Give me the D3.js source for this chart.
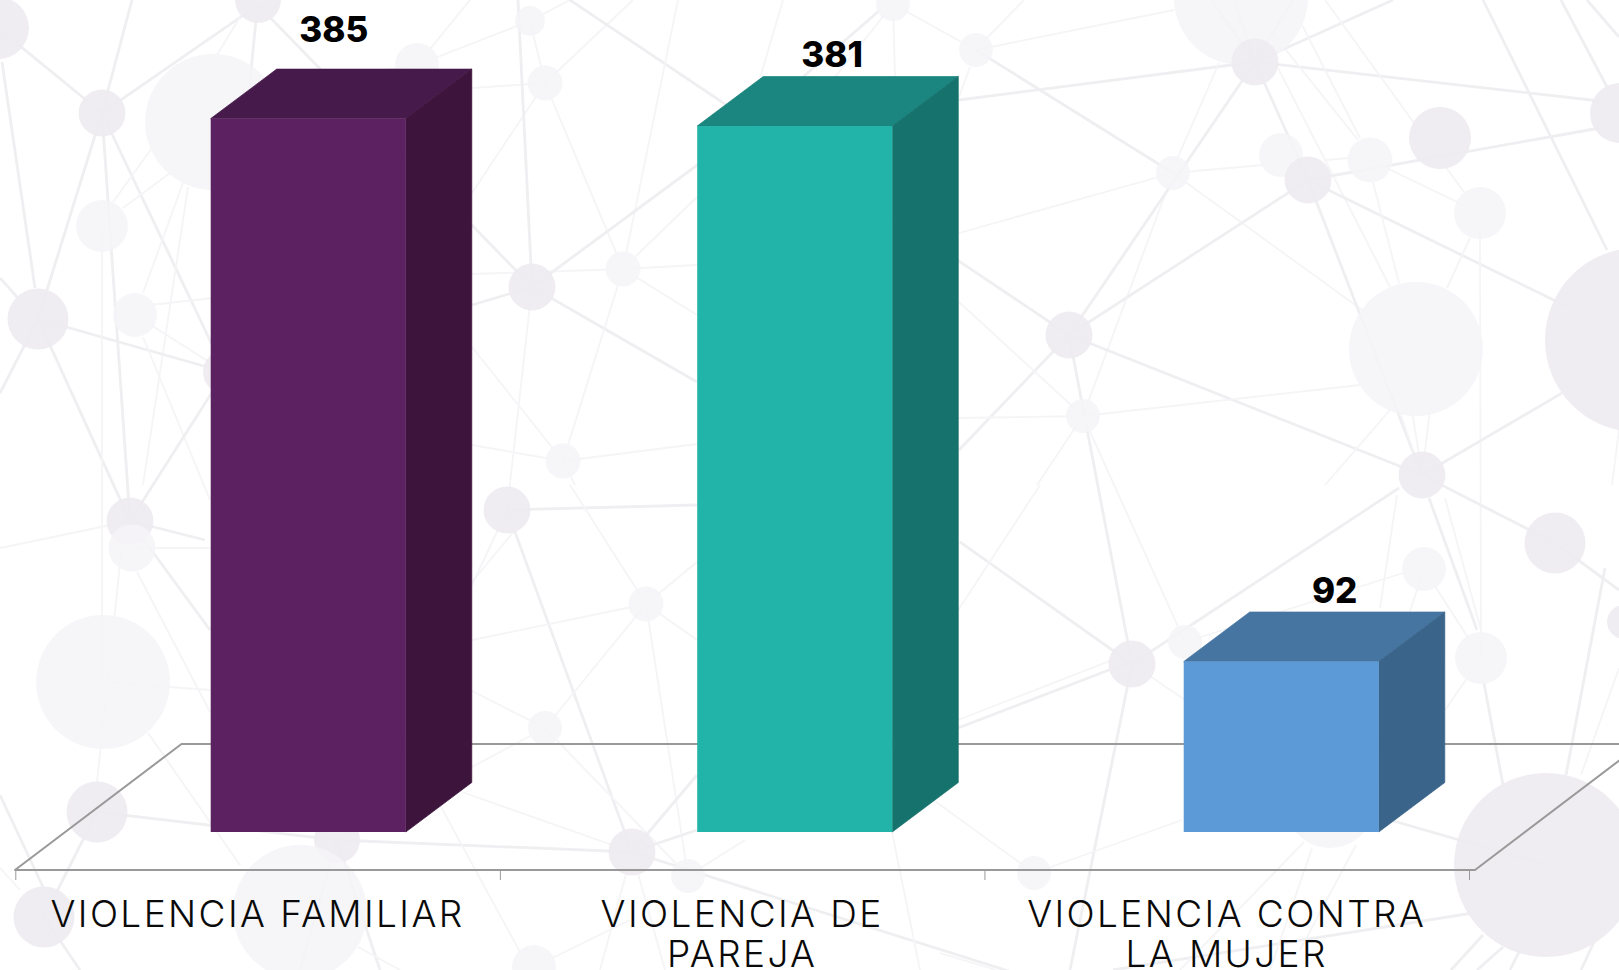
<!DOCTYPE html>
<html lang="es">
<head>
<meta charset="utf-8">
<title>Violencia</title>
<script src="https://cdn.jsdelivr.net/npm/d3@7"></script>
<style>
html,body{margin:0;padding:0;background:#fff;overflow:hidden}
svg{display:block}
</style>
</head>
<body>
<svg id="chart" width="1619" height="970"></svg>
<script>
// ---- chart data ----
const categories = ["VIOLENCIA FAMILIAR", "VIOLENCIA DE PAREJA", "VIOLENCIA CONTRA LA MUJER"];
const categoryLines = [["VIOLENCIA FAMILIAR"], ["VIOLENCIA DE", "PAREJA"], ["VIOLENCIA CONTRA", "LA MUJER"]];
const values = [385, 381, 92];
const frontColors = ["#5c2160", "#22b4a8", "#5b9ad6"];
const topColors = ["#461a4a", "#1b857f", "#4675a2"];
const sideColors = ["#3d143c", "#16726c", "#3a6489"];
const labelShiftX = [123, 135, 151];
const labelGapY = [27, 9.5, 9];

// ---- decorative background network: [x, y, r, tone]  tone 1 darker, 0 lighter ----
const bgNodes = [
[-2,28,31,1],[102,113,23.5,1],[258,0,23,1],[213,122,68,0],[102,226,26,0],[135,315,22,0],[38,319,30.5,1],
[225,372,22,1],[417,65,22,0],[532,287,23.5,1],[130,521,23.5,1],[132,548,23.5,0],[103,682,67,0],[97,812,30.5,1],
[337,840,23,1],[300,912,67,0],[44,917,30.5,1],[507,510,23.5,1],[534,967,22,0],[530,21,15,0],[545,83,17.5,0],
[623,269,17.5,0],[563,461,17.5,0],[893,4,17,0],[976,50,17,0],[646,604,17.5,0],[545,728,17,0],[632,852,23.5,1],
[688,876,17,0],[1241,-2,67,0],[1255,62,23.5,1],[1281,155,22,0],[1308,180,23.5,1],[1370,160,22.5,0],[1440,138,31,1],
[1480,213,26,0],[1173,173,17,0],[1069,335,23.5,1],[1416,349,67,0],[1083,416,17,0],[1422,475,23.5,1],[1620,113,30,1],
[1637,340,92,1],[1555,543,30.5,1],[1424,569,22,0],[1481,658,26,0],[1132,664,23.5,1],[1185,642,17,0],[1330,803,45,0],
[1546,865,92,1],[1034,873,17,0],[1624,622,17,1]
];
// [x1, y1, x2, y2, weight]  weight 1 heavier, 0 thinner
const bgLinks = [
[-2,28,102,113,1],[2,62,35,288,1],[132,0,102,113,1],[102,113,258,5,1],[102,113,38,319,1],[102,113,130,521,1],[102,113,225,372,1],
[256,20,246,122,1],[240,17,217,55,0],[258,5,532,287,1],[170,173,123,208,0],[152,148,113,202,0],[183,183,143,293,0],[188,187,143,485,0],
[135,315,225,372,0],[150,305,214,298,0],[472,274,623,269,0],[38,319,225,372,1],[38,319,0,393,1],[17,297,0,278,1],[38,319,130,521,1],
[102,226,102,682,0],[143,337,210,500,0],[225,372,130,521,1],[472,88,545,83,0],[417,65,325,80,0],[417,65,530,21,0],[417,65,470,0,0],
[472,193,545,83,0],[472,347,563,461,0],[472,305,532,287,1],[472,445,563,461,0],[532,287,507,510,0],[518,0,532,287,1],[530,21,545,83,0],
[530,21,570,0,0],[545,83,633,0,0],[545,83,623,269,0],[570,0,1069,335,1],[623,269,678,0,0],[635,257,697,197,0],[532,287,700,163,1],
[623,269,697,265,0],[623,269,697,315,0],[532,287,697,382,1],[623,269,563,461,0],[563,461,697,444,0],[563,461,575,485,0],[783,0,760,78,0],
[880,10,803,77,1],[893,4,835,77,0],[893,4,895,77,0],[893,4,976,50,0],[970,67,959,97,0],[987,38,1024,0,0],[976,50,1173,173,1],[976,50,1174,10,0],
[959,100,1255,62,1],[959,233,1173,173,0],[1173,173,1263,165,0],[1325,160,1349,158,0],[1173,173,1416,349,0],[1173,173,1083,416,0],[1255,62,1069,335,1],
[1219,63,1178,157,0],[1255,62,1211,0,1],[1255,62,1234,0,1],[1255,62,1293,0,1],[1255,62,1393,0,1],[1255,62,1600,101,1],[1255,62,1308,180,1],[1278,68,1390,287,0],
[1286,50,1358,140,0],[1302,25,1360,138,0],[1325,0,1464,192,0],[1308,180,1600,128,1],[1308,180,1422,475,1],[1308,180,1069,335,1],
[1308,180,1570,308,1],[1370,160,1480,213,0],[1373,182,1399,283,0],[1470,238,1447,288,0],[1480,213,1481,658,0],[1483,0,1607,250,1],[1561,0,1607,87,1],
[1587,0,1619,37,1],[1069,335,1422,475,1],[1069,335,959,450,1],[1069,335,1132,664,1],[959,302,1083,416,0],[958,418,1083,416,0],[1083,416,1360,385,0],
[1083,416,1037,485,0],[1083,416,1185,642,0],[1399,410,1422,475,0],[1412,410,1422,475,0],[1430,410,1422,475,0],[1390,410,1325,485,0],[1422,475,1562,393,1],
[1619,430,1612,485,0],[1422,475,1555,543,1],[1555,543,1619,590,1],[1399,488,1132,664,1],[958,728,1135,660,1],[958,720,1125,655,0],[1397,495,1380,608,0],
[1429,498,1477,630,1],[1445,498,1481,630,0],[1403,573,1185,642,0],[1424,569,1481,658,0],[1424,569,1384,690,0],[1132,664,1200,710,0],[1132,664,1070,970,1],
[960,542,1132,664,1],[1040,485,957,612,0],[892,770,1034,873,0],[1034,873,1182,820,0],[1390,820,1546,865,1],[1481,658,1445,710,0],[1484,683,1503,785,1],
[1605,568,1566,775,1],[1619,668,1581,775,0],[1483,935,1451,970,1],[1503,947,1477,970,1],[1520,950,1510,970,1],[1594,942,1581,970,1],[1113,970,1473,913,1],
[940,953,996,970,0],[1304,842,1180,970,0],[1312,848,1270,970,0],[1356,845,1300,950,0],[507,510,697,505,1],[507,510,632,852,1],[507,510,472,585,0],
[515,530,472,582,0],[646,604,570,485,0],[646,604,697,562,0],[646,604,472,640,0],[646,604,697,640,0],[646,604,688,876,0],[646,604,545,728,0],[545,728,470,690,0],
[545,728,470,768,0],[545,728,688,876,0],[632,852,697,775,1],[632,852,697,830,1],[632,852,337,840,1],[632,852,462,792,0],[632,852,1100,1000,1],[632,852,600,970,0],
[632,852,665,970,0],[688,876,745,840,0],[534,967,630,920,0],[892,832,920,970,0],[440,805,520,952,0],[130,521,0,548,0],[130,521,205,540,1],[132,548,210,548,0],
[122,545,97,782,0],[130,521,210,630,1],[137,572,210,712,0],[103,682,210,690,0],[148,733,240,865,0],[97,812,337,840,1],[97,812,44,917,1],[0,868,20,890,0],
[44,917,80,970,1],[0,795,43,887,1],[337,840,300,970,1],[337,840,380,970,1],[337,840,405,800,0],[358,947,400,970,0]
];

// ---- layout constants ----
const width = 1619, height = 970;
const baseY = 832, topY = 118.6, maxValue = 385;
const depthX = 66, depthY = 49.5;
const axisY = 870;

const svg = d3.select("#chart");
svg.append("rect").attr("width", width).attr("height", height).attr("fill", "#fff");

// ---- background ----
const bg = svg.append("g");
bg.selectAll("line").data(bgLinks).join("line")
  .attr("x1", d => d[0]).attr("y1", d => d[1]).attr("x2", d => d[2]).attr("y2", d => d[3])
  .attr("stroke", d => d[4] ? "#efeef1" : "#f5f4f6")
  .attr("stroke-width", d => d[4] ? 2.8 : 1.8);
bg.selectAll("circle").data(bgNodes).join("circle")
  .attr("cx", d => d[0]).attr("cy", d => d[1]).attr("r", d => d[2])
  .attr("fill", d => d[3] ? "#eeeaf0" : "#f5f4f7")
  .attr("fill-opacity", 0.88);

// ---- scales ----
const y = d3.scaleLinear().domain([0, maxValue]).range([baseY, topY]);
const xBars = d3.scaleBand().domain(categories).range([65, 1524.5]).paddingInner(0.599).paddingOuter(0.2995);
const xLabels = d3.scaleBand().domain(categories).range([15.3, 1469]);
const xTicks = d3.scaleLinear().domain([0, categories.length]).range([15.3, 1469]);

// ---- floor ----
const floorLine = d3.line();
svg.append("path")
  .attr("d", floorLine([[1475 + 166, 744], [181.5, 744], [15, axisY], [1475, axisY], [1475 + 166, 744]]))
  .attr("fill", "none").attr("stroke", "#999").attr("stroke-width", 2).attr("stroke-linejoin", "round");

// ---- axis ----
const axis = svg.append("g").attr("transform", `translate(0,${axisY})`)
  .call(d3.axisBottom(xTicks).tickValues(d3.range(categories.length + 1)).tickSize(10).tickFormat(""));
axis.select(".domain").remove();
axis.selectAll(".tick line").attr("stroke", "#999").attr("stroke-width", 1);

// ---- bars ----
const rows = categories.map((c, i) => ({c, v: values[i], i}));
const bars = svg.append("g").selectAll("g").data(rows).join("g");
const poly = d3.line();
bars.append("path").attr("fill", d => topColors[d.i]).attr("stroke", d => topColors[d.i]).attr("stroke-width", 0.7)
  .attr("d", d => {
    const l = xBars(d.c), r = l + xBars.bandwidth(), t = y(d.v);
    return poly([[l, t], [l + depthX, t - depthY], [r + depthX, t - depthY], [r, t]]) + "Z";
  });
bars.append("path").attr("fill", d => sideColors[d.i]).attr("stroke", d => sideColors[d.i]).attr("stroke-width", 0.7)
  .attr("d", d => {
    const r = xBars(d.c) + xBars.bandwidth(), t = y(d.v);
    return poly([[r, t], [r + depthX, t - depthY], [r + depthX, baseY - depthY], [r, baseY]]) + "Z";
  });
bars.append("rect").attr("fill", d => frontColors[d.i])
  .attr("x", d => xBars(d.c)).attr("y", d => y(d.v))
  .attr("width", xBars.bandwidth()).attr("height", d => baseY - y(d.v));

// ---- value labels ----
svg.append("g").selectAll("text").data(rows).join("text")
  .attr("x", d => xBars(d.c) + labelShiftX[d.i])
  .attr("y", d => y(d.v) - depthY - labelGapY[d.i])
  .attr("text-anchor", "middle")
  .attr("font-family", "Inter, 'Open Sans', sans-serif")
  .attr("font-weight", 800).attr("font-size", 35).attr("fill", "#000")
  .text(d => d.v);

// ---- category labels ----
const labelG = svg.append("g").selectAll("text").data(rows).join("text")
  .attr("text-anchor", "middle")
  .attr("font-family", "Inter, 'Open Sans', sans-serif")
  .attr("font-weight", 300).attr("font-size", 37).attr("letter-spacing", 2.4).attr("fill", "#0a0a0a");
labelG.selectAll("tspan").data(d => categoryLines[d.i].map(t => ({t, i: d.i, c: d.c}))).join("tspan")
  .attr("x", d => xLabels(d.c) + xLabels.bandwidth() / 2)
  .attr("y", (d, j) => 927 + j * 40)
  .text(d => d.t);
</script>
</body>
</html>
